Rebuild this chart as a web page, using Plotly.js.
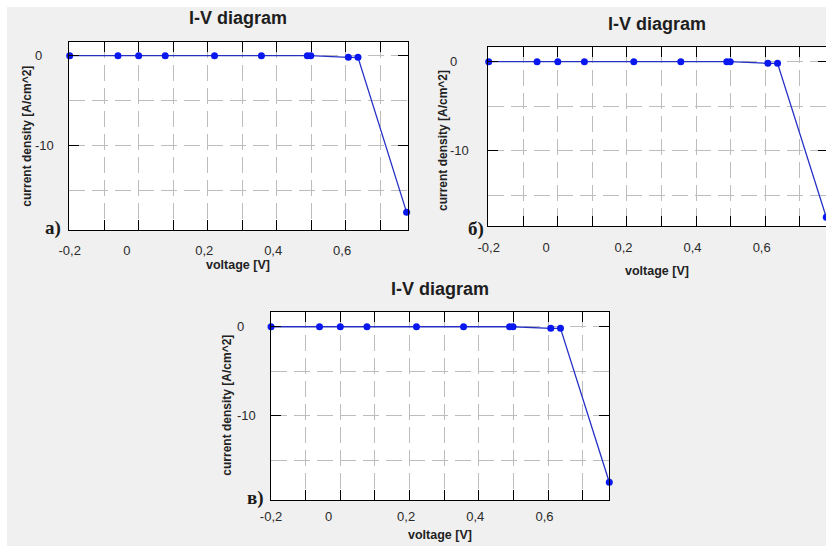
<!DOCTYPE html>
<html>
<head>
<meta charset="utf-8">
<script src="https://cdn.plot.ly/plotly-3.0.1.min.js"></script>
<style>
html,body{margin:0;padding:0;overflow:hidden;background:#f0f0f0;}
#chart{width:832px;height:546px;}
</style>
</head>
<body>
<div id="chart"></div>
<script>
// ---- data ----
const voltage = [-0.2, -0.06, 0, 0.077, 0.22, 0.356, 0.489, 0.499, 0.608, 0.636, 0.777];
const currentDensity = [0, 0, 0, 0, 0, 0, 0, 0, -0.18, -0.18, -17.48];
const panelTags = ['a)', 'б)', 'в)'];
const chartTitle = 'I-V diagram';
const xTitle = 'voltage [V]';
const yTitle = 'current density [A/cm^2]';
const xTickText = ['-0,2', '0', '0,2', '0,4', '0,6'];
const xTickPos = [-0.2, -0.034, 0.19, 0.39, 0.59];
const yTickText = ['0', '-10'];
const yTickVals = [0, -10];

// ---- layout geometry (pixels) ----
const W = 832, H = 546;
const fx = p => p / W;
const fy = p => 1 - p / H;

const panels = [
  {px:[69,408], py:[42,230], xr:[-0.202,0.781], yr:[-19.45,1.53],
   title:[237.7,18], xt:[238,265], yt:[26.7,136], tag:[53.5,228], ytx:34, stand:11},
  {px:[488,828], py:[47.3,226], xr:[-0.202,0.782], yr:[-18.46,1.62],
   title:[657,24], xt:[657,270.7], yt:[443,141], tag:[476,229], ytx:449, stand:12},
  {px:[270.7,609.3], py:[311.7,500], xr:[-0.201,0.777], yr:[-19.47,1.69],
   title:[440,289], xt:[440,535], yt:[226.7,405], tag:[255,498], ytx:236, stand:7}
];

const gridColor = '#bdbdbd';
const gridDash = '16px,7px';
const tickFont = {family:'Liberation Sans, Arial, sans-serif', size:13, color:'#2a2a2a'};

const traces = [];
const layout = {
  width: W, height: H, autosize:false,
  margin:{l:0,r:0,t:0,b:0,pad:0},
  paper_bgcolor:'#f0f0f0', plot_bgcolor:'#ffffff',
  showlegend:false,
  annotations:[],
  shapes:[
    {type:'rect', xref:'paper', yref:'paper', x0:0, x1:1, y0:fy(7), y1:1, fillcolor:'#ffffff', line:{width:0}, layer:'below'},
    {type:'rect', xref:'paper', yref:'paper', x0:0, x1:fx(7), y0:0, y1:1, fillcolor:'#ffffff', line:{width:0}, layer:'below'}
  ]
};

panels.forEach((p, i) => {
  const n = i + 1, m = i + 4;
  const xr = n === 1 ? 'x' : 'x' + n, yr = n === 1 ? 'y' : 'y' + n;
  const xk = n === 1 ? 'xaxis' : 'xaxis' + n, yk = n === 1 ? 'yaxis' : 'yaxis' + n;
  const xdom = [fx(p.px[0]), fx(p.px[1])];
  const ydom = [fy(p.py[1]), fy(p.py[0])];

  layout[xk] = {domain:xdom, range:p.xr, anchor:yr, showline:true, linecolor:'#000', linewidth:1,
    mirror:'ticks', ticks:'inside', ticklen:10, tickcolor:'#000', tickwidth:1,
    tickmode:'linear', tick0:0, dtick:0.1, showticklabels:false,
    showgrid:true, gridcolor:gridColor, griddash:gridDash, gridwidth:1, zeroline:false, fixedrange:true};
  layout[yk] = {domain:ydom, range:p.yr, anchor:xr, showline:true, linecolor:'#000', linewidth:1,
    mirror:'ticks', ticks:'inside', ticklen:10, tickcolor:'#000', tickwidth:1,
    tickmode:'linear', tick0:0, dtick:10, showticklabels:false,
    showgrid:true, gridcolor:gridColor, griddash:gridDash, gridwidth:1, zeroline:false, fixedrange:true,
    minor:{tickmode:'linear', tick0:0, dtick:5, showgrid:true, gridcolor:gridColor, griddash:gridDash, gridwidth:1, ticks:''}};
  // label-only overlay axes
  layout['xaxis' + m] = {overlaying:xr, anchor:'y' + m, side:'bottom', domain:xdom, range:p.xr,
    showgrid:false, showline:false, zeroline:false, ticks:'', tickmode:'array',
    tickvals:xTickPos, ticktext:xTickText, tickfont:tickFont, ticklabelstandoff:p.stand, fixedrange:true};
  layout['yaxis' + m] = {overlaying:yr, side:'right', domain:ydom, range:p.yr,
    showgrid:false, showline:false, zeroline:false, ticks:'', tickmode:'array',
    tickvals:yTickVals, ticktext:yTickText, tickfont:tickFont, fixedrange:true,
    anchor:'free', position:fx(p.ytx)};

  traces.push({type:'scatter', mode:'lines+markers', x:voltage, y:currentDensity, xaxis:xr, yaxis:yr,
    line:{color:'#2430c4', width:1.3}, marker:{color:'#0a18f0', size:7}, cliponaxis:false,
    hoverinfo:'skip', showlegend:false});
  // empty trace that only registers the label axes
  traces.push({type:'scatter', mode:'markers', x:[], y:[], xaxis:'x' + m, yaxis:'y' + m,
    hoverinfo:'skip', showlegend:false});

  layout.annotations.push(
    {xref:'paper', yref:'paper', x:fx(p.title[0]), y:fy(p.title[1]), xanchor:'center', yanchor:'middle', showarrow:false,
     text:'<b>' + chartTitle + '</b>', font:{family:'Liberation Sans, Arial, sans-serif', size:18, color:'#1e1e1e'}},
    {xref:'paper', yref:'paper', x:fx(p.xt[0]), y:fy(p.xt[1]), xanchor:'center', yanchor:'middle', showarrow:false,
     text:'<b>' + xTitle + '</b>', font:{family:'Liberation Sans, Arial, sans-serif', size:12.5, color:'#222'}},
    {xref:'paper', yref:'paper', x:fx(p.yt[0]), y:fy(p.yt[1]), xanchor:'center', yanchor:'middle', showarrow:false, textangle:-90,
     text:'<b>' + yTitle + '</b>', font:{family:'Liberation Sans, Arial, sans-serif', size:12, color:'#222'}},
    {xref:'paper', yref:'paper', x:fx(p.tag[0]), y:fy(p.tag[1]), xanchor:'center', yanchor:'middle', showarrow:false,
     text:'<b>' + panelTags[i] + '</b>', font:{family:'Liberation Serif, Times New Roman, serif', size:19, color:'#1a1a1a'}}
  );
});

Plotly.newPlot('chart', traces, layout, {displayModeBar:false, staticPlot:true});
</script>
</body>
</html>
